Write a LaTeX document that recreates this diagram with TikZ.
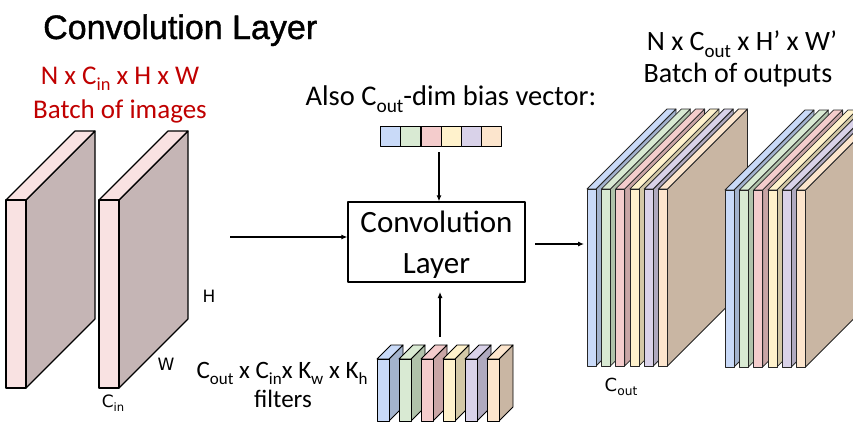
\documentclass[tikz,border=0pt]{standalone}
\usepackage{fontspec}
\setmainfont{Carlito}
\newfontfamily\titlefont[FakeBold=1.2]{Liberation Sans}
\newfontfamily\dvfont{DejaVu Sans}
\usetikzlibrary{arrows.meta}
\definecolor{cB}{HTML}{C9DAF8}
\definecolor{cG}{HTML}{D9EAD3}
\definecolor{cR}{HTML}{F4CCCC}
\definecolor{cY}{HTML}{FFF2CC}
\definecolor{cP}{HTML}{D9D2E9}
\definecolor{cO}{HTML}{FCE5CD}
\definecolor{sB}{HTML}{A3B3CD}
\definecolor{sG}{HTML}{B0C2AA}
\definecolor{sR}{HTML}{C9A5A5}
\definecolor{sY}{HTML}{D3C8A6}
\definecolor{sP}{HTML}{AFA9BF}
\definecolor{sO}{HTML}{C9B6A3}
\definecolor{inFront}{HTML}{F9E2E2}
\definecolor{inSide}{HTML}{C5B5B5}
\definecolor{redtxt}{HTML}{C00000}
\newcommand\lo[1]{\raisebox{-0.25em}{\scalebox{0.68}{#1}}}
\newcommand\myslab[7]{%
  \pgfmathsetmacro\sxa{#1}%
  \pgfmathsetmacro\sxb{#1+#4}%
  \pgfmathsetmacro\sxc{#1+#4+#5}%
  \pgfmathsetmacro\syb{#3-#5}%
  \filldraw[fill=#7] (\sxb,#2) -- ++(#5,-#5) -- (\sxc,\syb) -- (\sxb,#3) -- cycle;
  \filldraw[fill=#6] (\sxa,#2) -- ++(#4,0) -- ++(#5,-#5) -- ++(-#4,0) -- cycle;
  \filldraw[fill=#6] (\sxa,#2) rectangle (\sxb,#3);
}
\tikzset{
  body/.style={font=\fontsize{#1}{#1}\selectfont, inner sep=0pt},
  dimlbl/.style={font=\dvfont\fontsize{#1}{#1}\selectfont, inner sep=0pt},
  arr/.style={-{Latex[length=6pt,width=5pt]}, line width=1.1pt},
}
\begin{document}
\begin{tikzpicture}[x=1pt,y=-1pt, line join=round]
\useasboundingbox (0,0) rectangle (853,445);
\clip (0,0) rectangle (853,445);

% title
\node[font=\titlefont\fontsize{34}{34}\selectfont, inner sep=0pt, anchor=base west] (title) at (43,39) {Convolution Layer};

% input batch
\node[body=27, text=redtxt, anchor=base] (inDim) at (120,84) {N x C\lo{in} x H x W};
\node[body=27, text=redtxt, anchor=base] (inLbl) at (120,118) {Batch of images};
\begin{scope}[draw=black, line width=1.1pt]
  \myslab{6}{200}{388}{20}{69}{inFront}{inSide}
  \myslab{99}{200}{388}{20}{69}{inFront}{inSide}
\end{scope}
\node[dimlbl=17] (hLbl) at (209,296) {H};
\node[dimlbl=17] (wLbl) at (166,364) {W};
\node[dimlbl=17, anchor=base] (cinLbl) at (113,407) {C\lo{in}};

% bias vector
\node[body=28.5, anchor=base] (biasLbl) at (451,105) {Also C\lo{out}-dim bias vector:};
\foreach \c [count=\i] in {cB,cG,cR,cY,cP,cO}
  \node[draw, line width=1.1pt, fill=\c, minimum width=20.2pt, minimum height=20pt, inner sep=0pt, anchor=north west] (b\i) at ({380+20.2*(\i-1)},126) {};

% conv box
\node[draw, line width=1.3pt, minimum width=177pt, minimum height=80pt, inner sep=0pt] (conv) at (436.5,242) {};
\node[body=31, anchor=base] (convT1) at (436.5,232) {Convolution};
\node[body=31, anchor=base] (convT2) at (436.5,273) {Layer};

% filters
\begin{scope}[draw=black, line width=0.9pt]
  \foreach \fc/\sc [count=\i] in {cB/sB,cG/sG,cR/sR,cY/sY,cP/sP,cO/sO}
    {\myslab{377+22*\i-22}{359}{421}{12}{14}{\fc}{\sc}}
\end{scope}
\node[body=25, anchor=base] (fLbl1) at (282,378) {C\lo{out} x C\lo{in}x K\lo{w} x K\lo{h}};
\node[body=25, anchor=base] (fLbl2) at (283,407) {filters};

% output
\node[body=28, anchor=base] (outDim) at (742,50) {N x C\lo{out} x H’ x W’};
\node[body=28, anchor=base] (outLbl) at (738,82) {Batch of outputs};
\begin{scope}[draw=black!85, line width=0.8pt]
  \foreach \fc/\sc [count=\i] in {cB/sB,cG/sG,cR/sR,cY/sY,cP/sP,cO/sO}
    {\myslab{587+14.3*\i-14.3}{189}{366}{9}{80}{\fc}{\sc}}
  \foreach \fc/\sc [count=\i] in {cB/sB,cG/sG,cR/sR,cY/sY,cP/sP,cO/sO}
    {\myslab{725+14.3*\i-14.3}{190}{367}{9}{80}{\fc}{\sc}}
\end{scope}
\node[dimlbl=18, anchor=base] (coutLbl) at (621,391) {C\lo{out}};

% connectors
\coordinate (inS) at (230,237);
\draw[arr] (inS) -- (inS -| conv.west);
\coordinate (outS) at (535,244);
\coordinate (outE) at (584,244);
\draw[arr] (outS) -- (outE);
\coordinate (bT) at (439,152);
\draw[arr] (bT) -- (bT |- conv.north);
\coordinate (fT) at (440,337);
\coordinate (fE) at (440,292);
\draw[arr] (fT) -- (fE);
\end{tikzpicture}
\end{document}
